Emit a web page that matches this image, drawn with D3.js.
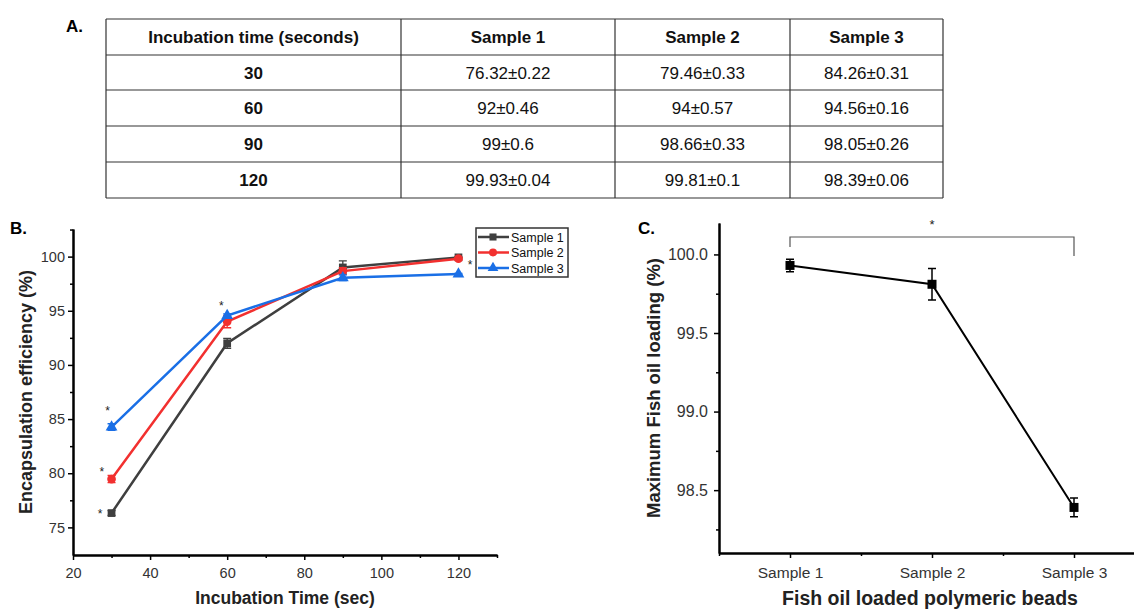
<!DOCTYPE html>
<html>
<head>
<meta charset="utf-8">
<script src="https://cdn.jsdelivr.net/npm/d3@7"></script>
<style>
  body { margin: 0; background: #fff; }
  svg text { font-family: Arial, "Liberation Sans", sans-serif; }
</style>
</head>
<body>
<svg id="chart" width="1134" height="609"></svg>
<script>
// table data
const tableHeader = ['Incubation time (seconds)', 'Sample 1', 'Sample 2', 'Sample 3'];
const times = [30, 60, 90, 120];
const sample1 = [76.32, 92, 99, 99.93];
const sample1Err = [0.22, 0.46, 0.6, 0.04];
const sample2 = [79.46, 94, 98.66, 99.81];
const sample2Err = [0.33, 0.57, 0.33, 0.1];
const sample3 = [84.26, 94.56, 98.05, 98.39];
const sample3Err = [0.31, 0.16, 0.26, 0.06];
const sampleNames = ['Sample 1', 'Sample 2', 'Sample 3'];
const sampleColors = ['#3f3f3f', '#f2302f', '#1a6fe6'];

// panel C data
const maxLoading = [99.93, 99.81, 98.39];
const maxLoadingErr = [0.04, 0.1, 0.06];

const svg = d3.select('#chart');

// ---------- A. table ----------
svg.append('text').attr('x', 66).attr('y', 32)
  .attr('font-family', 'Lato, sans-serif').attr('font-weight', 'bold').attr('font-size', 17)
  .text('A.');

const colX = [106, 401, 615, 790, 943];
const rowY = [19, 55, 90, 126, 162, 198];
const table = svg.append('g');
colX.forEach(x => table.append('line').attr('x1', x).attr('x2', x).attr('y1', rowY[0]).attr('y2', rowY[5])
  .attr('stroke', '#333').attr('stroke-width', 1.2));
rowY.forEach(y => table.append('line').attr('x1', colX[0]).attr('x2', colX[4]).attr('y1', y).attr('y2', y)
  .attr('stroke', '#333').attr('stroke-width', 1.2));

const fmt = (v, e) => `${v}±${e}`;
const rows = [tableHeader].concat(times.map((t, i) => [
  String(t), fmt(sample1[i], sample1Err[i]), fmt(sample2[i], sample2Err[i]), fmt(sample3[i], sample3Err[i])
]));
rows.forEach((row, r) => {
  row.forEach((cell, c) => {
    table.append('text')
      .attr('x', (colX[c] + colX[c + 1]) / 2)
      .attr('y', (rowY[r] + rowY[r + 1]) / 2 + 6)
      .attr('text-anchor', 'middle')
      .attr('font-family', 'Lato, sans-serif')
      .attr('font-size', 17)
      .attr('font-weight', (r === 0 || c === 0) ? 'bold' : 'normal')
      .attr('fill', '#111')
      .text(cell);
  });
});

// ---------- B. line chart ----------
const xB = d3.scaleLinear().domain([20, 130]).range([73, 497]);
const yB = d3.scaleLinear().domain([72.45, 102.55]).range([555, 229]);

svg.append('text').attr('x', 10).attr('y', 234)
  .attr('font-family', 'Lato, sans-serif').attr('font-weight', 'bold').attr('font-size', 17)
  .text('B.');

const gB = svg.append('g');
// axes
const xAxisB = gB.append('g').attr('transform', 'translate(0,555)')
  .call(d3.axisBottom(xB).tickValues([20, 40, 60, 80, 100, 120]).tickSize(5).tickSizeOuter(0));
gB.append('g').attr('transform', 'translate(0,555)')
  .call(d3.axisBottom(xB).tickValues([30, 50, 70, 90, 110, 130]).tickSize(3).tickFormat('').tickSizeOuter(0));
const yAxisB = gB.append('g').attr('transform', 'translate(73,0)')
  .call(d3.axisLeft(yB).tickValues([75, 80, 85, 90, 95, 100]).tickSize(5).tickSizeOuter(0));
gB.append('g').attr('transform', 'translate(73,0)')
  .call(d3.axisLeft(yB).tickValues([77.5, 82.5, 87.5, 92.5, 97.5, 102.5]).tickSize(3).tickFormat('').tickSizeOuter(0));
gB.selectAll('.domain').attr('stroke', '#000').attr('stroke-width', 2);
gB.selectAll('.tick line').attr('stroke', '#000').attr('stroke-width', 1.5);
gB.selectAll('.tick text').attr('font-size', 14.5).attr('fill', '#333');
xAxisB.selectAll('.tick text').attr('dy', '1em');

gB.append('text')
  .attr('x', 285).attr('y', 604).attr('text-anchor', 'middle')
  .attr('font-weight', 'bold').attr('font-size', 17.5).attr('fill', '#222')
  .text('Incubation Time (sec)');
gB.append('text')
  .attr('transform', 'translate(32,392) rotate(-90)').attr('text-anchor', 'middle')
  .attr('font-weight', 'bold').attr('font-size', 18).attr('fill', '#222')
  .text('Encapsulation efficiency (%)');

const seriesB = [
  { name: sampleNames[0], vals: sample1, errs: sample1Err, color: sampleColors[0], shape: d3.symbolSquare },
  { name: sampleNames[1], vals: sample2, errs: sample2Err, color: sampleColors[1], shape: d3.symbolCircle },
  { name: sampleNames[2], vals: sample3, errs: sample3Err, color: sampleColors[2], shape: d3.symbolTriangle }
];
const lineB = d3.line().x(d => xB(d[0])).y(d => yB(d[1]));
seriesB.forEach(s => {
  const pts = times.map((t, i) => [t, s.vals[i], s.errs[i]]);
  gB.append('path').datum(pts).attr('d', lineB)
    .attr('fill', 'none').attr('stroke', s.color).attr('stroke-width', 2.5);
  pts.forEach(p => {
    const x = xB(p[0]);
    gB.append('path')
      .attr('d', `M${x},${yB(p[1] - p[2])}V${yB(p[1] + p[2])}M${x - 4},${yB(p[1] - p[2])}H${x + 4}M${x - 4},${yB(p[1] + p[2])}H${x + 4}`)
      .attr('stroke', s.color).attr('stroke-width', 1.3).attr('fill', 'none');
    gB.append('path').attr('d', d3.symbol().type(s.shape).size(60)())
      .attr('transform', `translate(${x},${yB(p[1])})`).attr('fill', s.color);
  });
});

// significance stars in B
const starsB = [
  [27, 76.32], [27.5, 80.2], [29, 85.8], [58.5, 95.5], [123, 99.3]
];
starsB.forEach(d => gB.append('text')
  .attr('x', xB(d[0])).attr('y', yB(d[1]) + 5).attr('text-anchor', 'middle')
  .attr('font-size', 12).attr('fill', '#222').text('*'));

// legend
const leg = gB.append('g').attr('transform', 'translate(476,228)');
leg.append('rect').attr('width', 92).attr('height', 49)
  .attr('fill', '#fff').attr('stroke', '#333').attr('stroke-width', 1.5);
seriesB.forEach((s, i) => {
  const y = 9 + i * 15.5;
  leg.append('line').attr('x1', 2).attr('x2', 33).attr('y1', y).attr('y2', y)
    .attr('stroke', s.color).attr('stroke-width', 2.5);
  leg.append('path').attr('d', d3.symbol().type(s.shape).size(50)())
    .attr('transform', `translate(17,${y})`).attr('fill', s.color);
  leg.append('text').attr('x', 35).attr('y', y + 4.5)
    .attr('font-size', 12.5).attr('fill', '#111').text(s.name);
});

// ---------- C. max loading ----------
const xC = d3.scaleLinear().domain([0.5, 3.5]).range([719, 1145]);
const yC = d3.scaleLinear().domain([98.1, 100.2]).range([553, 223]);

svg.append('text').attr('x', 638).attr('y', 234)
  .attr('font-family', 'Lato, sans-serif').attr('font-weight', 'bold').attr('font-size', 17)
  .text('C.');

const gC = svg.append('g');
const xAxisC = gC.append('g').attr('transform', 'translate(0,553)')
  .call(d3.axisBottom(xC).tickValues([1, 2, 3]).tickFormat((d, i) => sampleNames[i]).tickSize(5).tickSizeOuter(0));
gC.append('g').attr('transform', 'translate(0,553)')
  .call(d3.axisBottom(xC).tickValues([0.5, 1.5, 2.5]).tickSize(3).tickFormat('').tickSizeOuter(0));
const yAxisC = gC.append('g').attr('transform', 'translate(719,0)')
  .call(d3.axisLeft(yC).tickValues([98.5, 99.0, 99.5, 100.0]).tickFormat(d3.format('.1f')).tickSize(5).tickPadding(6).tickSizeOuter(0));
gC.append('g').attr('transform', 'translate(719,0)')
  .call(d3.axisLeft(yC).tickValues([98.25, 98.75, 99.25, 99.75]).tickSize(3).tickFormat('').tickSizeOuter(0));
gC.selectAll('.domain').attr('stroke', '#000').attr('stroke-width', 2);
gC.selectAll('.tick line').attr('stroke', '#000').attr('stroke-width', 1.5);
xAxisC.selectAll('.tick text').attr('font-size', 15.5).attr('fill', '#333').attr('dy', '1.1em');
yAxisC.selectAll('.tick text').attr('font-size', 16).attr('fill', '#333');

gC.append('text')
  .attr('x', 930).attr('y', 605).attr('text-anchor', 'middle')
  .attr('font-weight', 'bold').attr('font-size', 19.5).attr('fill', '#222')
  .text('Fish oil loaded polymeric beads');
gC.append('text')
  .attr('transform', 'translate(660,388) rotate(-90)').attr('text-anchor', 'middle')
  .attr('font-weight', 'bold').attr('font-size', 18.5).attr('fill', '#222')
  .text('Maximum Fish oil loading (%)');

const ptsC = maxLoading.map((v, i) => [i + 1, v, maxLoadingErr[i]]);
gC.append('path').datum(ptsC)
  .attr('d', d3.line().x(d => xC(d[0])).y(d => yC(d[1])))
  .attr('fill', 'none').attr('stroke', '#000').attr('stroke-width', 2);
ptsC.forEach(p => {
  const x = xC(p[0]);
  gC.append('path')
    .attr('d', `M${x},${yC(p[1] - p[2])}V${yC(p[1] + p[2])}M${x - 4},${yC(p[1] - p[2])}H${x + 4}M${x - 4},${yC(p[1] + p[2])}H${x + 4}`)
    .attr('stroke', '#000').attr('stroke-width', 1.5).attr('fill', 'none');
  gC.append('rect').attr('x', x - 4.5).attr('y', yC(p[1]) - 4.5)
    .attr('width', 9).attr('height', 9).attr('fill', '#000');
});

// significance bracket sample 1 vs sample 3
const brY = 237;
gC.append('path')
  .attr('d', `M${xC(1)},247V${brY}H${xC(3)}V256`)
  .attr('fill', 'none').attr('stroke', '#555').attr('stroke-width', 1.2);
gC.append('text').attr('x', xC(2)).attr('y', 229).attr('text-anchor', 'middle')
  .attr('font-size', 13).attr('fill', '#222').text('*');
</script>
</body>
</html>
